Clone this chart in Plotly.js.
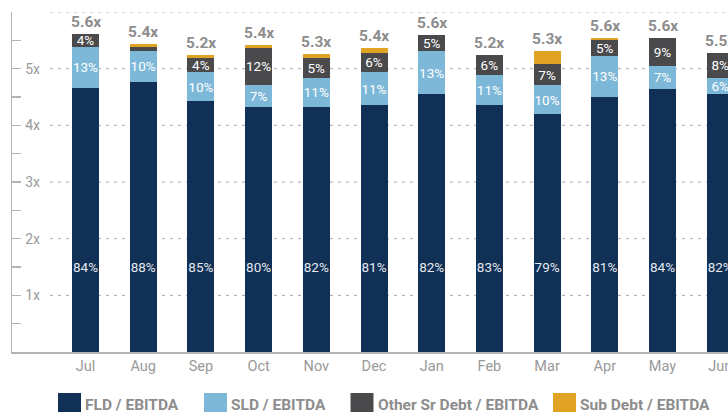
<!DOCTYPE html>
<html>
<head>
<meta charset="utf-8">
<script src="https://cdn.plot.ly/plotly-3.0.1.min.js"></script>
<style>
html, body { margin: 0; padding: 0; overflow: hidden; background: #fff; width: 728px; height: 412px; }
#chart { width: 800px; height: 412px; }
</style>
</head>
<body>
<div id="chart"></div>
<script>
// ---- Data ----
const months = ["Jul", "Aug", "Sep", "Oct", "Nov", "Dec", "Jan", "Feb", "Mar", "Apr", "May", "Jun"];

const seriesNames = ["FLD / EBITDA", "SLD / EBITDA", "Other Sr Debt / EBITDA", "Sub Debt / EBITDA"];
const seriesColors = ["#113056", "#7eb8d8", "#4a4a4c", "#e0a324"];

// leverage multiples (x EBITDA) per segment
const fld      = [4.66, 4.77, 4.43, 4.32, 4.32, 4.36, 4.55, 4.36, 4.20, 4.50, 4.64, 4.55];
const sld      = [0.73, 0.54, 0.51, 0.39, 0.52, 0.58, 0.76, 0.53, 0.51, 0.73, 0.41, 0.29];
const otherSr  = [0.22, 0.08, 0.25, 0.66, 0.35, 0.34, 0.28, 0.35, 0.37, 0.28, 0.49, 0.44];
const subDebt  = [0.00, 0.05, 0.05, 0.05, 0.07, 0.09, 0.00, 0.00, 0.23, 0.03, 0.00, 0.00];

// percentage labels
const fldPct     = ["84%", "88%", "85%", "80%", "82%", "81%", "82%", "83%", "79%", "81%", "84%", "82%"];
const sldPct     = ["13%", "10%", "10%", "7%", "11%", "11%", "13%", "11%", "10%", "13%", "7%", "6%"];
const otherSrPct = ["4%", "", "4%", "12%", "5%", "6%", "5%", "6%", "7%", "5%", "9%", "8%"];
const subDebtPct = ["", "", "", "", "", "", "", "", "", "", "", ""];

// total labels
const totalLabels = ["5.6x", "5.4x", "5.2x", "5.4x", "5.3x", "5.4x", "5.6x", "5.2x", "5.3x", "5.6x", "5.6x", "5.5x"];

const yTickVals = [1, 2, 3, 4, 5, 6];

// ---- Styling ----
const FONT = "Roboto, 'Noto Sans', sans-serif";
const GRAY = "#8d8d8d";
const AXIS = "#b3b3b3";

const W = 800, H = 412;
const M = { l: 12, r: 0, t: 12, b: 60 };
const plotW = W - M.l - M.r;
const plotH = H - M.t - M.b;
const catPx = 57.7;          // pixels per category
const firstCenterPx = 85.5;  // pixel x of first category
const x0 = -(firstCenterPx - M.l) / catPx;
const xRange = [x0, x0 + plotW / catPx];

const fldLabelY = 1.48;

const segs = [fld, sld, otherSr, subDebt];
const segText = [fldPct.map(() => ""), sldPct, otherSrPct, subDebtPct];

const traces = segs.map((vals, i) => ({
  type: "bar",
  name: seriesNames[i],
  x: months,
  y: vals,
  marker: { color: seriesColors[i], line: { width: 0 } },
  text: segText[i],
  textposition: "inside",
  insidetextanchor: "middle",
  textangle: 0,
  constraintext: "none",
  textfont: { family: FONT, size: 13.5, color: "#ffffff" },
  hoverinfo: "skip",
  showlegend: false
}));

const totals = months.map((_, k) => fld[k] + sld[k] + otherSr[k] + subDebt[k]);

traces.push({
  type: "scatter",
  mode: "text",
  x: months,
  y: months.map(() => fldLabelY),
  text: fldPct,
  textposition: "middle center",
  textfont: { family: FONT, size: 13.5, color: "#e4e9f0" },
  cliponaxis: false,
  hoverinfo: "skip",
  showlegend: false
});

// grid lines (dashed, starting right of the tick labels)
const shapes = yTickVals.map(v => ({
  type: "line", xref: "paper", yref: "y",
  x0: (50 - M.l) / plotW, x1: 1, y0: v, y1: v,
  line: { color: "#a9a9a9", width: 1, dash: "3px,5px" },
  layer: "below"
}));

// total labels above the bars
const annotations = months.map((m, k) => ({
  xref: "x", yref: "y", x: m, y: totals[k],
  xanchor: "center", yanchor: "bottom", yshift: 1,
  text: totalLabels[k], showarrow: false,
  font: { family: FONT, size: 15.5, color: GRAY, weight: 700 }
}));

// manual legend
const legendX = [58, 204, 350.5, 553];
const pxToPaperX = px => (px - M.l) / plotW;
const pxToPaperY = py => (H - M.b - py) / plotH;
seriesNames.forEach((nm, i) => {
  shapes.push({
    type: "rect", xref: "paper", yref: "paper",
    x0: pxToPaperX(legendX[i]), x1: pxToPaperX(legendX[i] + 23),
    y0: pxToPaperY(393), y1: pxToPaperY(418),
    fillcolor: seriesColors[i], line: { width: 0 }
  });
  annotations.push({
    xref: "paper", yref: "paper",
    x: pxToPaperX(legendX[i] + 25), y: pxToPaperY(405),
    xanchor: "left", yanchor: "middle",
    text: nm, showarrow: false,
    font: { family: FONT, size: 15.5, color: GRAY, weight: 700 }
  });
});

const layout = {
  width: W, height: H,
  margin: M,
  paper_bgcolor: "#ffffff",
  plot_bgcolor: "#ffffff",
  barmode: "stack",
  bargap: 0.532,
  showlegend: false,
  font: { family: FONT, color: GRAY },
  xaxis: {
    type: "category",
    range: xRange,
    showgrid: false,
    zeroline: false,
    showline: true,
    linecolor: AXIS,
    linewidth: 1.5,
    ticks: "",
    tickfont: { family: FONT, size: 14.5, color: "#999999" },
    fixedrange: true
  },
  yaxis: {
    range: [0, 6],
    tickmode: "array",
    tickvals: yTickVals,
    ticktext: yTickVals.map(v => v + "x"),
    ticks: "inside",
    ticklen: 9,
    tickwidth: 1.5,
    tickcolor: AXIS,
    ticklabelposition: "inside",
    ticklabelstandoff: 4,
    tickfont: { family: FONT, size: 14, color: "#999999" },
    showgrid: false,
    zeroline: false,
    showline: true,
    linecolor: AXIS,
    linewidth: 1.5,
    minor: { tickmode: "linear", tick0: 0.5, dtick: 1, ticks: "inside", ticklen: 9, tickwidth: 1.5, tickcolor: AXIS },
    fixedrange: true
  },
  shapes: shapes,
  annotations: annotations
};

Plotly.newPlot("chart", traces, layout, { staticPlot: true, displayModeBar: false });
</script>
</body>
</html>
